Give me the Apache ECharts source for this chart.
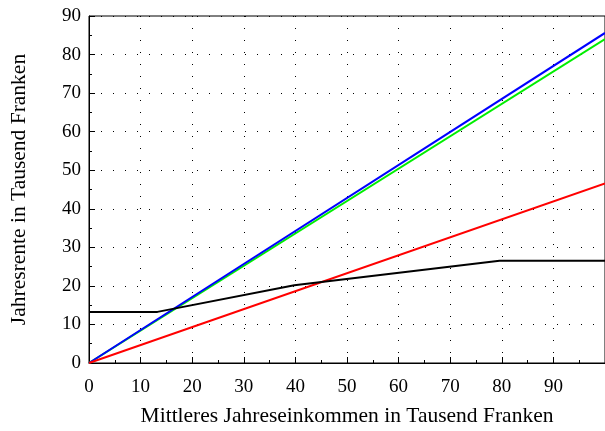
<!DOCTYPE html>
<html><head><meta charset="utf-8">
<script src="https://cdn.jsdelivr.net/npm/echarts@6/dist/echarts.min.js"></script>
<style>html,body{margin:0;padding:0;background:#fff}#c{width:605px;height:431px}</style>
</head><body><div id="c"></div>
<script>
const xTitle = 'Mittleres Jahreseinkommen in Tausend Franken';
const yTitle = 'Jahresrente in Tausend Franken';
const blueData = [[0, 0], [100, 85.6]];
const greenData = [[0, 0], [100, 84.0]];
const redData = [[0, 0], [100, 46.6]];
const blackData = [[0, 13.26], [13.26, 13.26], [39.78, 20.16], [79.56, 26.52], [100, 26.52]];
const xTicks = [0, 10, 20, 30, 40, 50, 60, 70, 80, 90];
const yTicks = [0, 10, 20, 30, 40, 50, 60, 70, 80, 90];

const font = 'Liberation Serif';
const chart = echarts.init(document.getElementById('c'), null, {renderer: 'canvas'});
const grid = {type: [1, 11], color: '#000', width: 1};
function line(data, color) {
  return {type: 'line', data: data, symbol: 'none', lineStyle: {color: color, width: 2}, itemStyle: {color: color}, animation: false};
}
chart.setOption({
  animation: false,
  grid: {left: 89, right: 0, top: 16, bottom: 68, show: true, borderColor: '#000', borderWidth: 1,
    containLabel: false, outerBoundsMode: 'none'},
  xAxis: {
    type: 'value', min: 0, max: 100, interval: 10,
    name: xTitle, nameLocation: 'middle', nameGap: 42,
    nameTextStyle: {fontFamily: font, fontSize: 21.5, color: '#000'},
    axisLine: {lineStyle: {color: '#000', width: 1}},
    axisTick: {inside: true, length: 6, lineStyle: {color: '#000'}},
    minorTick: {show: true, splitNumber: 2, length: 3, lineStyle: {color: '#000'}},
    axisLabel: {fontFamily: font, fontSize: 19, color: '#000', margin: 15,
      formatter: v => xTicks.includes(v) ? String(v) : ''},
    splitLine: {show: true, lineStyle: grid}
  },
  yAxis: {
    type: 'value', min: 0, max: 90, interval: 10,
    name: yTitle, nameLocation: 'middle', nameGap: 59, nameRotate: 90,
    nameTextStyle: {fontFamily: font, fontSize: 21.5, color: '#000'},
    axisLine: {show: true, lineStyle: {color: '#000', width: 1}},
    axisTick: {show: true, inside: true, length: 6, lineStyle: {color: '#000'}},
    minorTick: {show: true, splitNumber: 2, length: 3, lineStyle: {color: '#000'}},
    axisLabel: {fontFamily: font, fontSize: 19, color: '#000', margin: 8,
      formatter: v => yTicks.includes(v) ? String(v) : ''},
    splitLine: {show: true, lineStyle: grid}
  },
  series: [
    line(greenData, '#00ee00'),
    line(blueData, '#0000ff'),
    line(redData, '#ff0000'),
    line(blackData, '#000000')
  ]
});
</script></body></html>
